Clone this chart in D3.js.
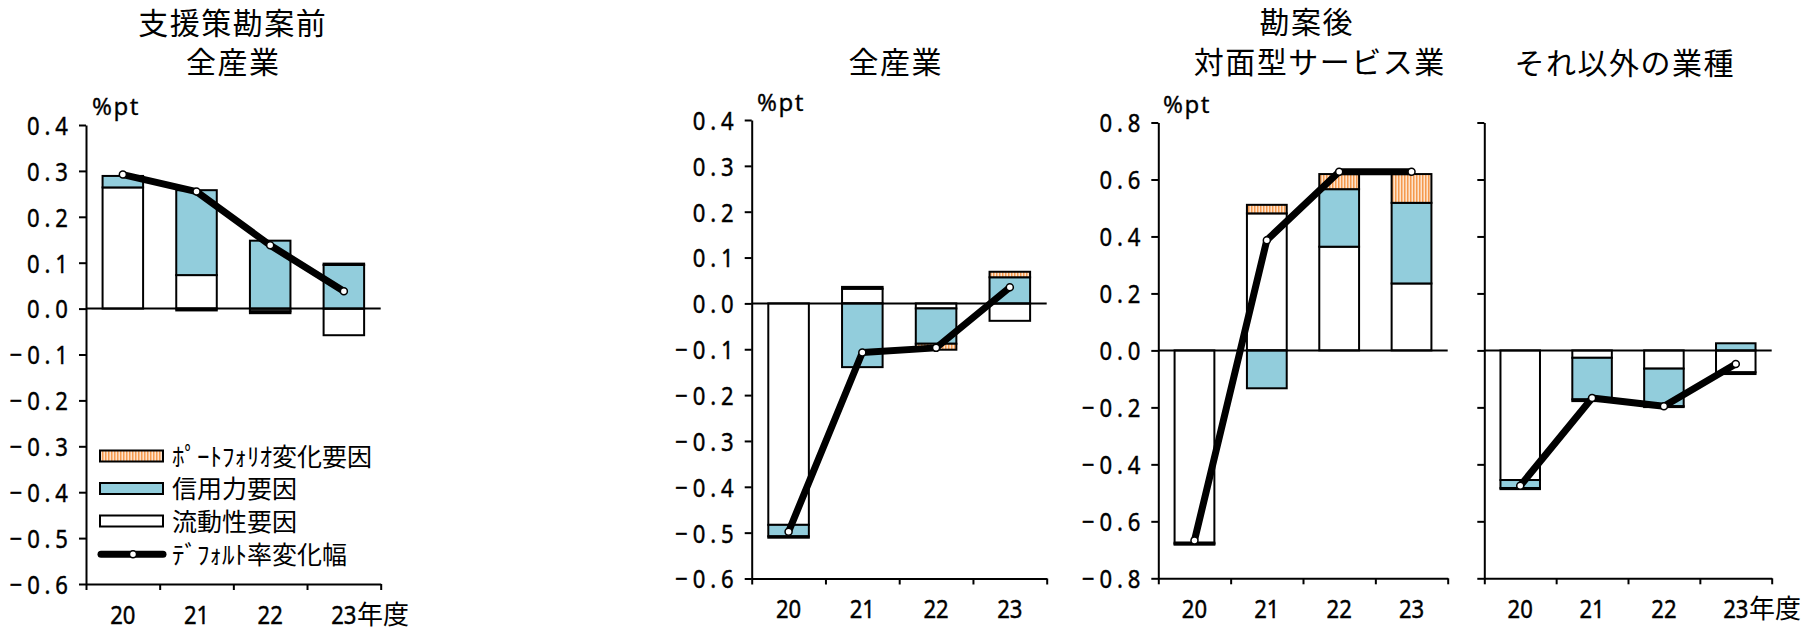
<!DOCTYPE html>
<html><head><meta charset="utf-8">
<script src="https://cdn.jsdelivr.net/npm/d3@7"></script>
<style>body{margin:0;background:#fff} svg{display:block}</style>
</head><body>
<svg id="c" width="1816" height="628"></svg>
<script>
// ---------- data ----------
const years = ["20", "21", "22", "23"];
// 支援策勘案前 全産業
const liqPre = [0.264, 0.073, -0.006, -0.058];
const crdPre = [0.025, 0.185, 0.148, 0.095];
const pfPre  = [0.000, -0.004, -0.004, 0.003];
const dfPre  = [0.292, 0.255, 0.138, 0.038];
// 勘案後 全産業
const liqAll = [-0.483, 0.032, -0.011, -0.038];
const crdAll = [-0.025, -0.139, -0.077, 0.057];
const pfAll  = [-0.003, 0.004, -0.013, 0.012];
const dfAll  = [-0.498, -0.107, -0.097, 0.035];
// 勘案後 対面型サービス業
const liqSvc = [-0.675, 0.481, 0.364, 0.235];
const crdSvc = [-0.004, -0.133, 0.202, 0.283];
const pfSvc  = [-0.003, 0.030, 0.053, 0.101];
const dfSvc  = [-0.667, 0.387, 0.627, 0.627];
// 勘案後 それ以外の業種
const liqOth = [-0.455, -0.026, -0.064, -0.077];
const crdOth = [-0.028, -0.146, -0.132, 0.025];
const pfOth  = [-0.004, -0.006, -0.003, -0.006];
const dfOth  = [-0.475, -0.167, -0.196, -0.048];

const ticksA = [-0.6, -0.5, -0.4, -0.3, -0.2, -0.1, 0.0, 0.1, 0.2, 0.3, 0.4];
const ticksB = [-0.8, -0.6, -0.4, -0.2, 0.0, 0.2, 0.4, 0.6, 0.8];
const seriesNames = ["ﾎﾟｰﾄﾌｫﾘｵ変化要因", "信用力要因", "流動性要因", "ﾃﾞﾌｫﾙﾄ率変化幅"];
const yearSuffix = "年度";
const unitLabel = "%pt";

// ---------- layout ----------
const svg = d3.select("#c");
const COL_CREDIT = "#92CDDC";
const NUMFONT = "'Noto Sans', sans-serif";
const CJKFONT = "'Noto Sans CJK JP', sans-serif";
const SX = 0.85;
const NUMSIZE = 26;
const LS = 5.7;

const defs = svg.append("defs");
const pat = defs.append("pattern").attr("id", "hatch").attr("patternUnits", "userSpaceOnUse")
  .attr("width", 3).attr("height", 6);
pat.append("rect").attr("width", 3).attr("height", 6).attr("fill", "#FDE3CC");
pat.append("rect").attr("width", 1.5).attr("height", 6).attr("fill", "#F59A4E");

svg.append("rect").attr("width", 1816).attr("height", 628).attr("fill", "#fff");

const panels = [
  {liq: liqPre, crd: crdPre, pf: pfPre, df: dfPre, x0: 86, x1: 380.7, top: 125, bot: 584, dom: [-0.6, 0.4], ticks: ticksA, labels: true, suffix: true,
   titles: [["支援策勘案前", 232, 34], ["全産業", 232.5, 73]], unit: [92, 115]},
  {liq: liqAll, crd: crdAll, pf: pfAll, df: dfAll, x0: 751.7, x1: 1046.7, top: 120, bot: 578.5, dom: [-0.6, 0.4], ticks: ticksA, labels: true, suffix: false,
   titles: [["全産業", 895, 73]], unit: [757, 111]},
  {liq: liqSvc, crd: crdSvc, pf: pfSvc, df: dfSvc, x0: 1158.3, x1: 1447.7, top: 122.5, bot: 578.3, dom: [-0.8, 0.8], ticks: ticksB, labels: true, suffix: false,
   titles: [["勘案後", 1306, 32.5], ["対面型サービス業", 1319, 72.5]], unit: [1163, 112.5]},
  {liq: liqOth, crd: crdOth, pf: pfOth, df: dfOth, x0: 1484.3, x1: 1771.7, top: 122.5, bot: 578.3, dom: [-0.8, 0.8], ticks: ticksB, labels: false, suffix: true,
   titles: [["それ以外の業種", 1624, 73.5]], unit: null}
];

const fmt = d3.format(".1f");

panels.forEach(p => {
  const g = svg.append("g");
  const x = d3.scaleBand().domain(years).range([p.x0, p.x1]).paddingInner(0.45).paddingOuter(0.225);
  const xb = d3.scaleLinear().domain([0, years.length]).range([p.x0, p.x1]);
  const y = d3.scaleLinear().domain(p.dom).range([p.bot, p.top]);

  // stacked bars: liquidity, credit, portfolio (outward from zero)
  years.forEach((yr, i) => {
    let pos = 0, neg = 0;
    [[p.liq[i], "#fff"], [p.crd[i], COL_CREDIT], [p.pf[i], "url(#hatch)"]].forEach(([v, fill]) => {
      if (!v) return;
      let a, b;
      if (v > 0) { a = pos; b = pos + v; pos = b; } else { a = neg; b = neg + v; neg = b; }
      g.append("rect")
        .attr("x", x(yr)).attr("width", x.bandwidth())
        .attr("y", y(Math.max(a, b))).attr("height", Math.abs(y(a) - y(b)))
        .attr("fill", fill).attr("stroke", "#000").attr("stroke-width", 2);
    });
  });

  // zero line
  g.append("line").attr("x1", p.x0).attr("x2", p.x1).attr("y1", y(0)).attr("y2", y(0))
    .attr("stroke", "#000").attr("stroke-width", 2);

  // y axis
  const ya = g.append("g").attr("transform", `translate(${p.x0},0)`)
    .call(d3.axisLeft(y).tickValues(p.ticks).tickSize(7).tickSizeOuter(0).tickPadding(11)
      .tickFormat(d => p.labels ? fmt(d) : ""));
  ya.select(".domain").attr("stroke-width", 2);
  ya.selectAll(".tick line").attr("stroke-width", 2);
  ya.selectAll("text").attr("font-family", NUMFONT).attr("font-size", NUMSIZE)
    .style("letter-spacing", LS + "px").attr("dy", "0.36em")
    .attr("x", (-18 + LS * SX) / SX).attr("transform", `scale(${SX},1)`)
    .attr("fill", "#000").attr("stroke", "#000").attr("stroke-width", 0.45);

  // x axis boundary ticks
  const xa = g.append("g").attr("transform", `translate(0,${p.bot})`)
    .call(d3.axisBottom(xb).tickValues(d3.range(years.length + 1)).tickSize(6).tickSizeOuter(0).tickFormat(""));
  xa.select(".domain").attr("stroke-width", 2);
  xa.selectAll(".tick line").attr("stroke-width", 2);

  // x labels
  const xl = g.append("g").attr("transform", `translate(0,${p.bot})`)
    .call(d3.axisBottom(x).tickSize(0).tickPadding(21.5));
  xl.select(".domain").remove();
  xl.selectAll("text").attr("font-family", NUMFONT).attr("font-size", NUMSIZE)
    .attr("transform", `scale(${SX},1)`).attr("fill", "#000")
    .attr("stroke", "#000").attr("stroke-width", 0.45);
  if (p.suffix) {
    const last = xl.selectAll(".tick").filter(d => d === years[years.length - 1]);
    const t = last.select("text");
    const w = t.node().getComputedTextLength() * SX;
    last.append("text").attr("x", w / 2 + 0.5).attr("y", 21.5).attr("dy", "0.7em")
      .attr("text-anchor", "start")
      .attr("font-family", CJKFONT).attr("font-size", 26).attr("fill", "#000")
      .text(yearSuffix);
  }

  // default-rate line
  const line = d3.line().x((d, i) => x(years[i]) + x.bandwidth() / 2).y(d => y(d));
  g.append("path").attr("d", line(p.df)).attr("fill", "none").attr("stroke", "#000")
    .attr("stroke-width", 7).attr("stroke-linejoin", "round").attr("stroke-linecap", "round");
  g.selectAll(".mk").data(p.df).enter().append("circle")
    .attr("cx", (d, i) => x(years[i]) + x.bandwidth() / 2).attr("cy", d => y(d)).attr("r", 3.5)
    .attr("fill", "#fff").attr("stroke", "#000").attr("stroke-width", 1.5);

  // titles
  p.titles.forEach(([txt, cx, by]) => {
    svg.append("text").attr("x", cx + 0.75).attr("y", by).attr("text-anchor", "middle")
      .attr("font-family", CJKFONT).attr("font-size", 30).style("letter-spacing", "1.5px").attr("fill", "#000").text(txt);
  });
  if (p.unit) {
    svg.append("text").attr("x", p.unit[0]).attr("y", p.unit[1]).attr("font-family", NUMFONT)
      .attr("font-size", 24).style("letter-spacing", "1.5px").attr("fill", "#000")
      .attr("stroke", "#000").attr("stroke-width", 0.3).text(unitLabel);
  }
});

// legend
const lg = svg.append("g");
const rows = [456, 488.5, 521, 554.3];
const fills = ["url(#hatch)", COL_CREDIT, "#fff"];
fills.forEach((f, i) => {
  lg.append("rect").attr("x", 100).attr("y", rows[i] - 5.5).attr("width", 63).attr("height", 11)
    .attr("fill", f).attr("stroke", "#000").attr("stroke-width", 2);
});
lg.append("line").attr("x1", 101).attr("x2", 163).attr("y1", rows[3]).attr("y2", rows[3])
  .attr("stroke", "#000").attr("stroke-width", 7).attr("stroke-linecap", "round");
lg.append("circle").attr("cx", 133).attr("cy", rows[3]).attr("r", 3.5).attr("fill", "#fff")
  .attr("stroke", "#000").attr("stroke-width", 1.5);
seriesNames.forEach((s, i) => {
  lg.append("text").attr("x", 172).attr("y", rows[i] + 9.5).attr("font-family", CJKFONT)
    .attr("font-size", 25).attr("fill", "#000").text(s);
});
</script>
</body></html>
